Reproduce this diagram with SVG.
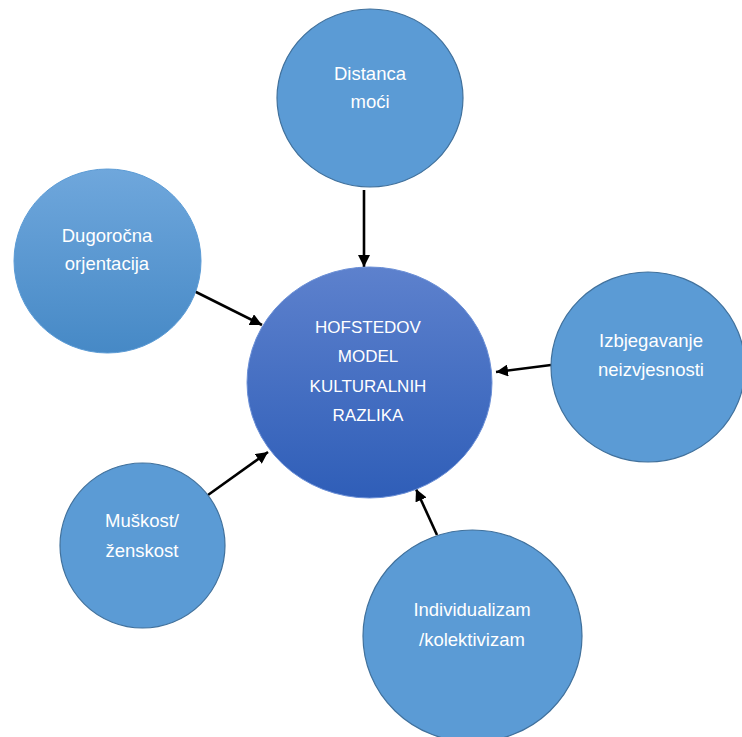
<svg xmlns="http://www.w3.org/2000/svg" width="742" height="737" viewBox="0 0 742 737">
<defs>
<style>
.n{fill:#5b9bd5;stroke:#41719c;stroke-width:1.2}
.t{font-family:"Liberation Sans",Arial,sans-serif;font-size:18.5px;fill:#ffffff;text-anchor:middle}
.tc{font-size:17px}
.c{stroke:#000;stroke-width:2.6;fill:none;marker-end:url(#ah)}
</style>
<linearGradient id="gc" x1="0" y1="0" x2="0" y2="1">
<stop offset="0" stop-color="#5d81cd"/>
<stop offset="1" stop-color="#2f5eb8"/>
</linearGradient>
<linearGradient id="gl" x1="0" y1="0" x2="0" y2="1">
<stop offset="0" stop-color="#6fa7dc"/>
<stop offset="1" stop-color="#4689c6"/>
</linearGradient>
<marker id="ah" markerUnits="userSpaceOnUse" markerWidth="14" markerHeight="12" refX="12" refY="6" orient="auto">
<path d="M0,0 L12,6 L0,12 Z" fill="#000"/>
</marker>
</defs>
<rect width="742" height="737" fill="#ffffff"/>
<g id="connectors">
<line class="c" x1="364" y1="190" x2="364" y2="267"/>
<line class="c" x1="192" y1="290" x2="262" y2="325"/>
<line class="c" x1="551" y1="365" x2="496" y2="372"/>
<line class="c" x1="208" y1="495" x2="268" y2="452"/>
<line class="c" x1="437" y1="535" x2="416" y2="489"/>
</g>
<g id="center">
<ellipse cx="369.5" cy="382.5" rx="122.5" ry="115.5" fill="url(#gc)" stroke="#6b8fd6" stroke-width="1"/>
<text class="t tc" x="368" y="333">HOFSTEDOV</text>
<text class="t tc" x="368" y="362">MODEL</text>
<text class="t tc" x="368" y="392">KULTURALNIH</text>
<text class="t tc" x="368" y="421">RAZLIKA</text>
</g>
<g id="distanca">
<ellipse class="n" cx="370" cy="98" rx="93" ry="89"/>
<text class="t" x="370" y="80">Distanca</text>
<text class="t" x="370" y="108">moći</text>
</g>
<g id="dugorocna">
<ellipse cx="107.5" cy="261" rx="93.5" ry="92" fill="url(#gl)" stroke="#5b9bd5" stroke-width="1"/>
<text class="t" x="107" y="242">Dugoročna</text>
<text class="t" x="107" y="270">orjentacija</text>
</g>
<g id="izbjegavanje">
<ellipse class="n" cx="648" cy="367" rx="97" ry="95"/>
<text class="t" x="651" y="347">Izbjegavanje</text>
<text class="t" x="651" y="376">neizvjesnosti</text>
</g>
<g id="muskost">
<ellipse class="n" cx="142.5" cy="545.5" rx="82.5" ry="82.5"/>
<text class="t" x="142" y="527">Muškost/</text>
<text class="t" x="142" y="557">ženskost</text>
</g>
<g id="individualizam">
<ellipse class="n" cx="472.5" cy="636" rx="109.5" ry="106"/>
<text class="t" x="472" y="616">Individualizam</text>
<text class="t" x="472" y="646">/kolektivizam</text>
</g>
</svg>
